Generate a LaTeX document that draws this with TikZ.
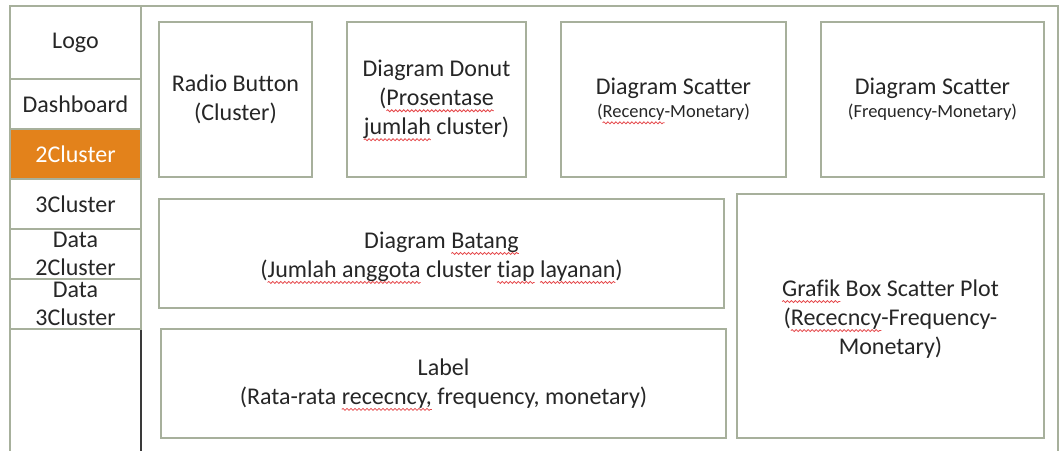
\documentclass[tikz,border=0pt]{standalone}
\usepackage{fontspec}
\setmainfont{Carlito}[Ligatures=NoCommon]
\usetikzlibrary{positioning,decorations.pathmorphing}
\definecolor{ink}{HTML}{262626}
\definecolor{edge}{HTML}{A7B09C}
\definecolor{active}{HTML}{E3821B}
\definecolor{spell}{HTML}{E5484B}
\definecolor{dark}{HTML}{3A3A3A}
\newcommand\typo[1]{\tikz[baseline=(w.base)]{\node[inner sep=0pt, outer sep=0pt, minimum size=0pt, draw=none, fill=none, anchor=base] (w) {#1};
  \draw[overlay, draw=spell, line width=0.8pt, decorate, decoration={snake, segment length=4pt, amplitude=1pt}]
    ([yshift=-5pt]w.base west) -- ([yshift=-5pt]w.base east);}}

\begin{document}
\begin{tikzpicture}[
  x=1pt, y=-1pt,
  font=\fontsize{24}{29}\selectfont, text=ink,
  box/.style={draw=edge, line width=1.6pt, align=center, inner sep=0pt, outer sep=0pt},
  cell/.style={box, minimum width=131pt, minimum height=50pt},
  area/.style={box, execute at begin node=\rule{0pt}{23pt}},
  panel/.style={area, minimum height=155pt}
]
\useasboundingbox (0,0) rectangle (1059,450);

% ---- frame
\draw[draw=edge, line width=1.6pt] (10,460) -- (10,6) -- (1058,6) -- (1058,460);
\draw[draw=dark, line width=1.6pt] (141,329) -- (141,460);

% ---- sidebar
\node[cell, minimum height=73pt, anchor=north west] (logo) at (10,6) {Logo};
\node[cell, below=0pt of logo] (dash) {Dashboard};
\node[cell, fill=active, text=white, below=0pt of dash] (two) {2Cluster};
\node[cell, below=0pt of two] (three) {3Cluster};
\node[cell, below=0pt of three, font=\fontsize{24}{28}\selectfont] (data2) {Data\\2Cluster};
\node[cell, below=0pt of data2, font=\fontsize{24}{28}\selectfont] (data3) {Data\\3Cluster};

% ---- top row
\node[panel, minimum width=153pt, anchor=north west] (radio) at (159,22) {Radio Button\\(Cluster)};
\node[panel, minimum width=179pt, right=35pt of radio] (donut) {Diagram Donut\\(\typo{Prosentase}\\\typo{jumlah} cluster)};
\node[panel, minimum width=225pt, right=35pt of donut] (screc)
  {Diagram Scatter\\[-6pt]{\fontsize{18.5}{22}\selectfont(\typo{Recency}-Monetary)}};
\node[panel, minimum width=223pt, right=35pt of screc] (scfreq)
  {Diagram Scatter\\[-6pt]{\fontsize{18.5}{22}\selectfont(Frequency-Monetary)}};

% ---- lower part
\node[area, minimum width=565pt, minimum height=109pt, below right=22pt and 0pt of radio.south west] (batang)
  {Diagram \typo{Batang}\\(\typo{Jumlah anggota} cluster \typo{tiap} \typo{layanan})};
\node[area, minimum width=565pt, minimum height=109pt, below right=21pt and 2pt of batang.south west] (label)
  {Label\\(Rata-rata \typo{rececncy,} frequency, monetary)};
\node[area, minimum width=307pt, minimum height=244pt, below left=17pt and 0pt of scfreq.south east] (grafik)
  {\typo{Grafik} Box Scatter Plot\\(\typo{Rececncy}-Frequency-\\Monetary)};
\end{tikzpicture}
\end{document}
